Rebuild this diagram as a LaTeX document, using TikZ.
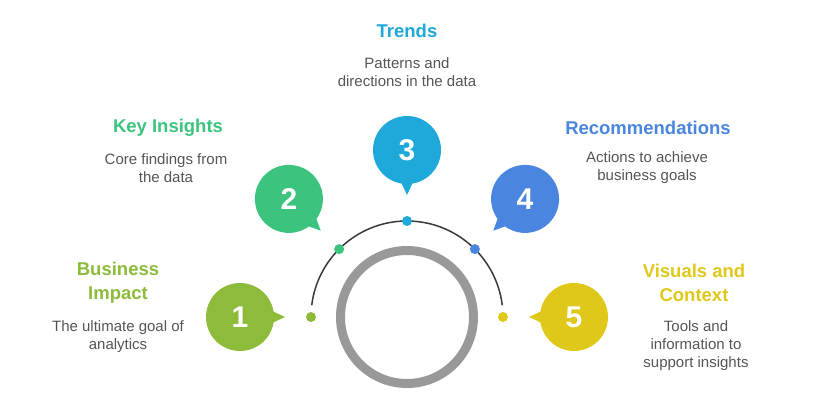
\documentclass[tikz,border=0pt]{standalone}
\usepackage{fontspec}
\setmainfont{Liberation Sans}
\usetikzlibrary{calc}
\definecolor{cone}{HTML}{8DBB3A}
\definecolor{ctwo}{HTML}{3CC47E}
\definecolor{cthree}{HTML}{1FA8DA}
\definecolor{cfour}{HTML}{4A86E0}
\definecolor{cfive}{HTML}{E0C81A}
\definecolor{ringgray}{HTML}{999999}
\definecolor{arcgray}{HTML}{3A3A3A}
\definecolor{txtgray}{HTML}{555555}
\begin{document}
\begin{tikzpicture}[x=1pt, y=1pt,
    title/.style={font=\bfseries\fontsize{18.5}{24}\selectfont, align=center, inner sep=0},
    desc/.style={font=\fontsize{15}{18}\selectfont, text=txtgray, align=center, inner sep=0}]
    \useasboundingbox (0,0) rectangle (815,410);
    \coordinate (O) at (407,93);
    % ring and arc
    \draw[line width=9pt, draw=ringgray] (O) circle (66.5);
    \draw[line width=1.5pt, draw=arcgray] ($(O)+(173:96)$) arc (173:7:96);
    % dots, pointers and bubbles
    \foreach \i/\a/\c in {1/180/cone,2/135/ctwo,3/90/cthree,4/45/cfour,5/0/cfive}{
      \node[fill=\c, circle, minimum size=10pt, inner sep=0] (d\i) at ($(O)+(\a:96)$) {};
      \fill[\c] ($(O)+(\a:122)$) -- ($(O)+(\a:137)+(\a+90:7)$) -- ($(O)+(\a:137)+(\a-90:7)$) -- cycle;
      \node[fill=\c, circle, minimum size=68pt, inner sep=0, text=white, font=\bfseries\fontsize{30}{30}\selectfont] (b\i) at ($(O)+(\a:167)$) {\i};
    }
    % labels
    \node[title, text=cone] (t1) at (118,127) {Business\\Impact};
    \node[desc] (p1) at (118,73) {The ultimate goal of\\analytics};
    \node[title, text=ctwo] (t2) at (168,282.5) {Key Insights};
    \node[desc] (p2) at (166,242) {Core findings from\\the data};
    \node[title, text=cthree] (t3) at (407,379.5) {Trends};
    \node[desc] (p3) at (407,338) {Patterns and\\directions in the data};
    \node[title, text=cfour] (t4) at (648,282.5) {Recommendations};
    \node[desc] (p4) at (647,242) {Actions to achieve\\business goals};
    \node[title, text=cfive] (t5) at (694,127) {Visuals and\\Context};
    \node[desc] (p5) at (696,64.5) {Tools and\\information to\\support insights};
  \end{tikzpicture}
\end{document}
